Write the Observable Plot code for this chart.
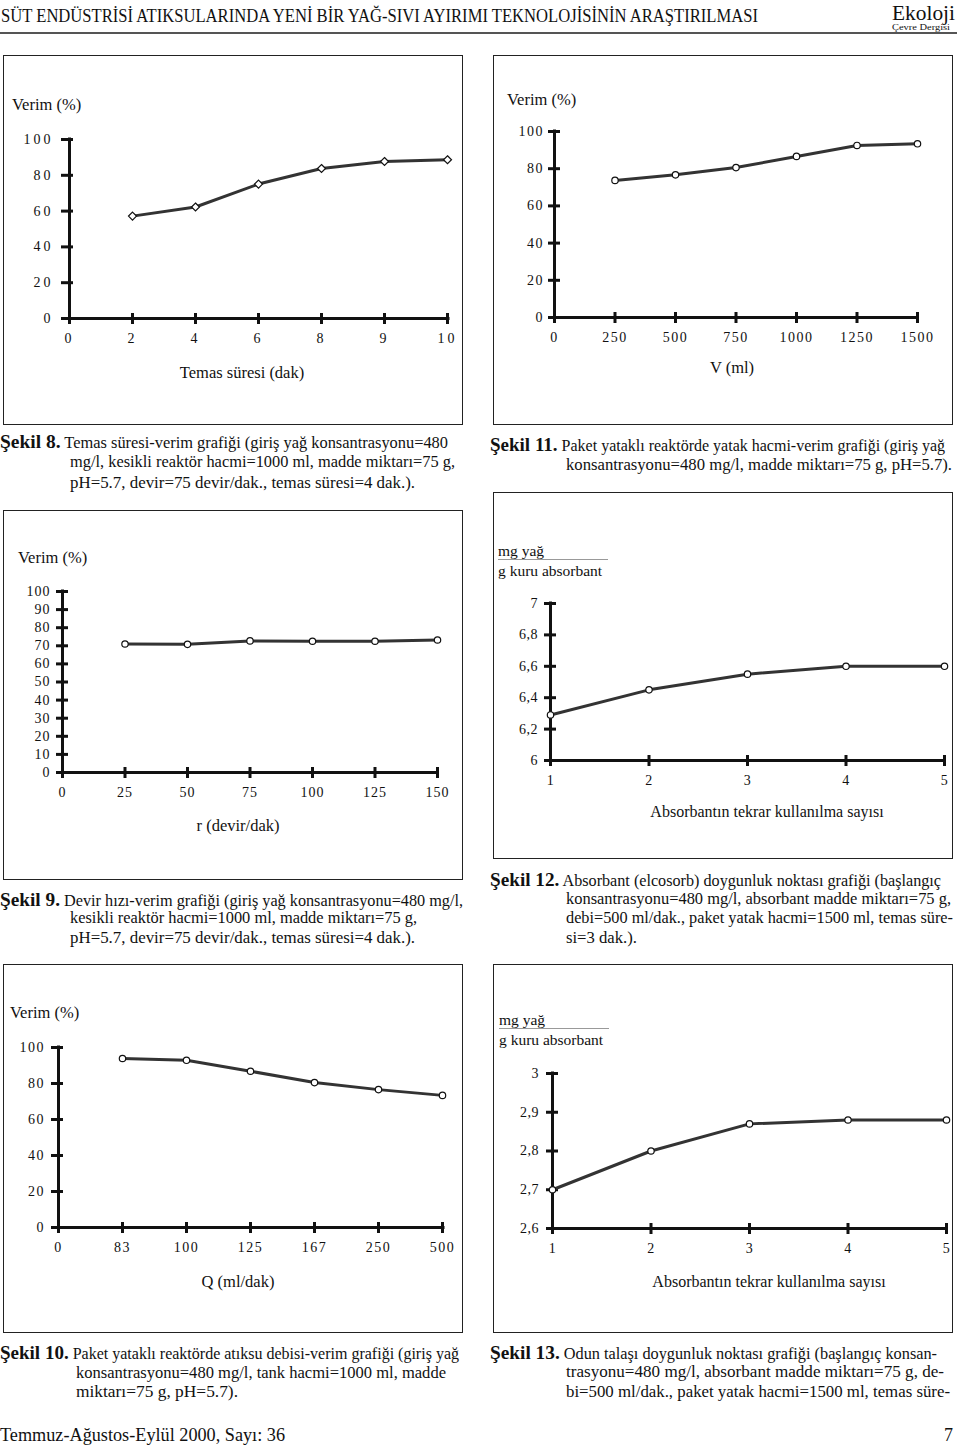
<!DOCTYPE html>
<html><head><meta charset="utf-8">
<script src="https://cdn.jsdelivr.net/npm/d3@7"></script>
<script src="https://cdn.jsdelivr.net/npm/@observablehq/plot@0.6"></script>
<style>
html,body{margin:0;padding:0;background:#fff;}
#page{position:relative;width:960px;height:1446px;overflow:hidden;font-family:"Liberation Serif","Times New Roman",serif;color:#111;background:#fff;}
.t{position:absolute;white-space:nowrap;line-height:1;}
.box{position:absolute;border:1.5px solid #222;box-sizing:border-box;}
#page svg{position:absolute;overflow:visible;}
</style></head><body><div id="page"></div>
<script>
// ---------- DATA ----------
// Şekil 8: Temas süresi (dak) - Verim (%)
const s8_xTicks = ["0", "2", "4", "6", "8", "9", "10"];
const s8_sure = [2, 4, 6, 8, 9, 10];
const s8_verim = [57.2, 62.3, 75.1, 83.8, 87.7, 88.7];
const s8_yTicks = [0, 20, 40, 60, 80, 100];

// Şekil 11: V (ml) - Verim (%)
const s11_xTicks = [0, 250, 500, 750, 1000, 1250, 1500];
const s11_hacim = [250, 500, 750, 1000, 1250, 1500];
const s11_verim = [73.7, 76.7, 80.6, 86.6, 92.5, 93.4];
const s11_yTicks = [0, 20, 40, 60, 80, 100];

// Şekil 9: r (devir/dak) - Verim (%)
const s9_xTicks = [0, 25, 50, 75, 100, 125, 150];
const s9_devir = [25, 50, 75, 100, 125, 150];
const s9_verim = [71.0, 70.8, 72.7, 72.5, 72.5, 73.2];
const s9_yTicks = [0, 10, 20, 30, 40, 50, 60, 70, 80, 90, 100];

// Şekil 12: kullanım sayısı - mg yağ / g kuru absorbant
const s12_xTicks = [1, 2, 3, 4, 5];
const s12_sayi = [1, 2, 3, 4, 5];
const s12_kapasite = [6.29, 6.45, 6.55, 6.60, 6.60];
const s12_yTicks = [6, 6.2, 6.4, 6.6, 6.8, 7];

// Şekil 10: Q (ml/dak) - Verim (%)
const s10_xTicks = ["0", "83", "100", "125", "167", "250", "500"];
const s10_debi = [83, 100, 125, 167, 250, 500];
const s10_verim = [93.9, 92.9, 86.8, 80.5, 76.6, 73.4];
const s10_yTicks = [0, 20, 40, 60, 80, 100];

// Şekil 13: kullanım sayısı - mg yağ / g kuru absorbant
const s13_xTicks = [1, 2, 3, 4, 5];
const s13_sayi = [1, 2, 3, 4, 5];
const s13_kapasite = [2.70, 2.80, 2.87, 2.88, 2.88];
const s13_yTicks = [2.6, 2.7, 2.8, 2.9, 3];

// ---------- HELPERS ----------
const page = document.getElementById("page");

function addText(html, x, cy, size, opts = {}) {
  const d = document.createElement("div");
  d.className = "t";
  d.innerHTML = html;
  d.style.fontSize = size + "px";
  d.style.left = x + "px";
  d.style.top = cy + "px";
  if (opts.family) d.style.fontFamily = opts.family;
  if (opts.weight) d.style.fontWeight = opts.weight;
  if (opts.color) d.style.color = opts.color;
  page.appendChild(d);
  const anchor = opts.anchor || "start";
  const tx = anchor === "middle" ? "-50%" : anchor === "end" ? "-100%" : "0";
  let sx = 1;
  if (opts.width) sx = opts.width / d.getBoundingClientRect().width;
  d.style.transformOrigin = anchor === "middle" ? "50% 50%" : anchor === "end" ? "100% 50%" : "0 50%";
  d.style.transform = `translate(${tx}, -50%) scaleX(${sx})`;
  return d;
}

function addBox(x, y, w, h) {
  const b = document.createElement("div");
  b.className = "box";
  Object.assign(b.style, {left: x + "px", top: y + "px", width: w + "px", height: h + "px"});
  page.appendChild(b);
}

const comma = d => String(d).replace(".", ",");

function chart(cfg) {
  const {box, ax0, ax1, ay0, ay1, xScale, yDomain, xTicks, yTicks, data, symbol, r, ls, yPad} = cfg;
  const x0 = xScale.domain[0];
  const svg = Plot.plot({
    width: box.w, height: box.h,
    marginLeft: ax0 - box.x, marginRight: box.x + box.w - ax1,
    marginTop: ay1 - box.y, marginBottom: box.y + box.h - ay0,
    x: {...xScale, label: null},
    y: {domain: yDomain, label: null},
    style: {fontFamily: "Liberation Serif, Times New Roman, serif", fontSize: "14px", color: "#111", background: "transparent"},
    marks: [
      Plot.ruleY([yDomain[0]], {strokeWidth: 3, insetLeft: -6, insetRight: -1.5, stroke: "#111"}),
      Plot.ruleX([x0], {strokeWidth: 3, insetTop: -1.5, stroke: "#111"}),
      Plot.axisY({ticks: yTicks, tickSize: 12, dx: 6, tickPadding: yPad, strokeWidth: 3, tickFormat: comma, label: null}),
      Plot.axisX({ticks: xTicks, tickSize: 11, dy: -5, tickPadding: 9, strokeWidth: 3, tickFormat: comma, label: null}),
      Plot.line(data, {x: "x", y: "y", stroke: "#333", strokeWidth: 3}),
      Plot.dot(data, {x: "x", y: "y", r: r, symbol: symbol, fill: "white", stroke: "#111", strokeWidth: 1.2})
    ]
  });
  svg.style.left = box.x + "px";
  svg.style.top = box.y + "px";
  svg.style.letterSpacing = ls + "px";
  page.appendChild(svg);
}

const zip = (xs, ys, f = v => v) => xs.map((v, i) => ({x: f(v), y: ys[i]}));

// ---------- HEADER ----------
addText("SÜT ENDÜSTRİSİ ATIKSULARINDA YENİ BİR YAĞ-SIVI AYIRIMI TEKNOLOJİSİNİN ARAŞTIRILMASI", 1, 16, 18, {width: 757});
addText("Ekoloji", 892, 12.5, 20, {width: 63});
addText("Çevre Dergisi", 892, 26.5, 9, {width: 58});
(() => { const r = document.createElement("div");
  Object.assign(r.style, {position: "absolute", left: "0px", top: "32px", width: "957px", height: "1.5px", background: "#555"});
  page.appendChild(r); })();

// ---------- BOXES ----------
addBox(3, 55, 460, 370);
addBox(493, 55, 460, 370);
addBox(3, 510, 460, 370);
addBox(493, 492, 460, 367);
addBox(3, 964, 460, 369);
addBox(493, 964, 460, 369);

// ---------- CHARTS ----------
chart({box: {x: 3, y: 55, w: 460, h: 370}, ax0: 67, ax1: 448, ay0: 318, ay1: 139,
  xScale: {type: "point", domain: s8_xTicks, padding: 0}, yDomain: [0, 100],
  xTicks: s8_xTicks, yTicks: s8_yTicks, data: zip(s8_sure, s8_verim, String),
  symbol: "diamond2", r: 3.6, ls: 3, yPad: 8});
chart({box: {x: 493, y: 55, w: 460, h: 370}, ax0: 554, ax1: 917, ay0: 317, ay1: 131,
  xScale: {type: "linear", domain: [0, 1500]}, yDomain: [0, 100],
  xTicks: s11_xTicks, yTicks: s11_yTicks, data: zip(s11_hacim, s11_verim),
  symbol: "circle", r: 3.2, ls: 1.5, yPad: 4.5});
chart({box: {x: 3, y: 510, w: 460, h: 370}, ax0: 62, ax1: 437, ay0: 772, ay1: 591,
  xScale: {type: "linear", domain: [0, 150]}, yDomain: [0, 100],
  xTicks: s9_xTicks, yTicks: s9_yTicks, data: zip(s9_devir, s9_verim),
  symbol: "circle", r: 3.2, ls: 1, yPad: 6});
chart({box: {x: 493, y: 492, w: 460, h: 367}, ax0: 550, ax1: 944, ay0: 760, ay1: 603,
  xScale: {type: "linear", domain: [1, 5]}, yDomain: [6, 7],
  xTicks: s12_xTicks, yTicks: s12_yTicks, data: zip(s12_sayi, s12_kapasite),
  symbol: "circle", r: 3.2, ls: 0.5, yPad: 6.5});
chart({box: {x: 3, y: 964, w: 460, h: 369}, ax0: 57, ax1: 443, ay0: 1227, ay1: 1047,
  xScale: {type: "point", domain: s10_xTicks, padding: 0}, yDomain: [0, 100],
  xTicks: s10_xTicks, yTicks: s10_yTicks, data: zip(s10_debi, s10_verim, String),
  symbol: "circle", r: 3.2, ls: 1.5, yPad: 6.5});
chart({box: {x: 493, y: 964, w: 460, h: 369}, ax0: 552, ax1: 946, ay0: 1228, ay1: 1073,
  xScale: {type: "linear", domain: [1, 5]}, yDomain: [2.6, 3],
  xTicks: s13_xTicks, yTicks: s13_yTicks, data: zip(s13_sayi, s13_kapasite),
  symbol: "circle", r: 3.2, ls: 0.5, yPad: 7.5});

// ---------- AXIS TITLES ----------
addText("Verim (%)", 12, 105, 16.5);
addText("Temas süresi (dak)", 242, 373, 16.5, {anchor: "middle"});
addText("Verim (%)", 507, 100, 16.5);
addText("V (ml)", 732, 368, 16.5, {anchor: "middle"});
addText("Verim (%)", 18, 558, 16.5);
addText("r (devir/dak)", 238, 826, 16.5, {anchor: "middle"});
addText("mg yağ", 498, 551, 15.5);
addText("g kuru absorbant", 498, 571, 15.5);
(() => { const r = document.createElement("div");
  Object.assign(r.style, {position: "absolute", left: "498px", top: "559px", width: "110px", height: "1px", background: "#999"});
  page.appendChild(r); })();
addText("Absorbantın tekrar kullanılma sayısı", 767, 812, 16, {anchor: "middle"});
addText("Verim (%)", 10, 1013, 16.5);
addText("Q (ml/dak)", 238, 1282, 16.5, {anchor: "middle"});
addText("mg yağ", 499, 1020, 15.5);
addText("g kuru absorbant", 499, 1040, 15.5);
(() => { const r = document.createElement("div");
  Object.assign(r.style, {position: "absolute", left: "499px", top: "1028px", width: "110px", height: "1px", background: "#999"});
  page.appendChild(r); })();
addText("Absorbantın tekrar kullanılma sayısı", 769, 1282, 16, {anchor: "middle"});

// ---------- CAPTIONS ----------
const B = s => `<b style="font-size:19px">${s}</b>`;
addText(B("Şekil 8.") + " Temas süresi-verim grafiği (giriş yağ konsantrasyonu=480", 0, 441, 16, {width: 448});
addText("mg/l, kesikli reaktör hacmi=1000 ml, madde miktarı=75 g,", 70, 462, 16, {width: 385});
addText("pH=5.7, devir=75 devir/dak., temas süresi=4 dak.).", 70, 483, 16, {width: 345});

addText(B("Şekil 11.") + " Paket yataklı reaktörde yatak hacmi-verim grafiği (giriş yağ", 490, 444, 16, {width: 455});
addText("konsantrasyonu=480 mg/l, madde miktarı=75 g, pH=5.7).", 566, 465, 16, {width: 386});

addText(B("Şekil 9.") + " Devir hızı-verim grafiği (giriş yağ konsantrasyonu=480 mg/l,", 0, 899, 16, {width: 463});
addText("kesikli reaktör hacmi=1000 ml, madde miktarı=75 g,", 70, 918, 16, {width: 347});
addText("pH=5.7, devir=75 devir/dak., temas süresi=4 dak.).", 70, 938, 16, {width: 345});

addText(B("Şekil 12.") + " Absorbant (elcosorb) doygunluk noktası grafiği (başlangıç", 490, 879, 16, {width: 451});
addText("konsantrasyonu=480 mg/l, absorbant madde miktarı=75 g,", 566, 899, 16, {width: 385});
addText("debi=500 ml/dak., paket yatak hacmi=1500 ml, temas süre-", 566, 918, 16, {width: 387});
addText("si=3 dak.).", 566, 938, 16, {width: 71});

addText(B("Şekil 10.") + " Paket yataklı reaktörde atıksu debisi-verim grafiği (giriş yağ", 0, 1352, 16, {width: 459});
addText("konsantrasyonu=480 mg/l, tank hacmi=1000 ml, madde", 76, 1373, 16, {width: 370});
addText("miktarı=75 g, pH=5.7).", 76, 1392, 16, {width: 162});

addText(B("Şekil 13.") + " Odun talaşı doygunluk noktası grafiği (başlangıç konsan-", 490, 1352, 16, {width: 447});
addText("trasyonu=480 mg/l, absorbant madde miktarı=75 g, de-", 566, 1372, 16, {width: 378});
addText("bi=500 ml/dak., paket yatak hacmi=1500 ml, temas süre-", 566, 1392, 16, {width: 384});

// ---------- FOOTER ----------
addText("Temmuz-Ağustos-Eylül 2000, Sayı: 36", 0, 1435, 18, {width: 285});
addText("7", 953, 1435, 18, {anchor: "end"});
</script></body></html>
